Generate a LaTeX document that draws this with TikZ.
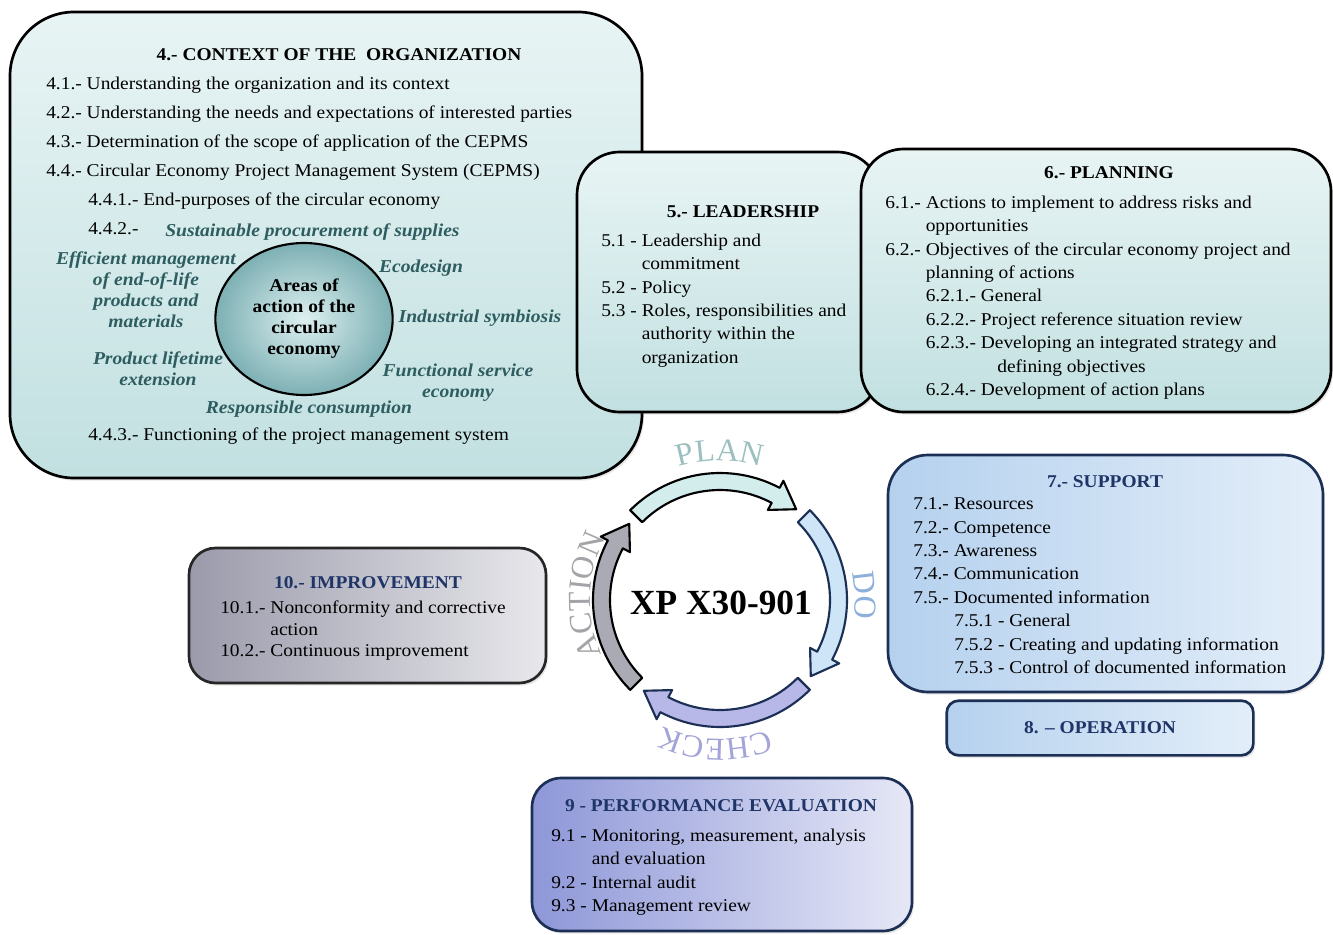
\documentclass[tikz,border=0pt]{standalone}
\usepackage{fontspec}
\setmainfont{Liberation Serif}[FakeStretch=1.08]
\newfontfamily\pdcafont{Liberation Serif}
\usepackage{xcolor}
\usepackage{tikz}
\usetikzlibrary{arrows.meta,positioning,fit,calc,shapes.geometric,decorations.text,shadows}

\definecolor{ctxtop}{HTML}{E8F4F4}
\definecolor{ctxbot}{HTML}{C2E0E1}
\definecolor{suplight}{HTML}{E3EEF9}
\definecolor{supdark}{HTML}{B5D1EE}
\definecolor{perflight}{HTML}{E6E8F6}
\definecolor{perfdark}{HTML}{8E97D8}
\definecolor{implight}{HTML}{E8E8EC}
\definecolor{impdark}{HTML}{9A9AAB}
\definecolor{navyline}{HTML}{1C2F55}
\definecolor{navytext}{HTML}{1F3467}
\definecolor{areateal}{HTML}{2E5D60}
\definecolor{ellinner}{HTML}{DDF0F0}
\definecolor{ellouter}{HTML}{7DB0B4}
\definecolor{plancol}{HTML}{D3ECEC}
\definecolor{docol}{HTML}{CDE5F7}
\definecolor{checkcol}{HTML}{B7B8E8}
\definecolor{actcol}{HTML}{A9AAB3}
\definecolor{planlbl}{HTML}{9CBFBF}
\definecolor{dolbl}{HTML}{8DAFDC}
\definecolor{checklbl}{HTML}{A3A4D8}
\definecolor{actlbl}{HTML}{A4A4A8}

\tikzset{
    softshadow/.style={
        drop shadow={opacity=0.18, shadow xshift=1.5pt, shadow yshift=-2pt}
    },
    tealbox/.style={
        draw=black,
        line width=2pt,
        top color=ctxtop,
        bottom color=ctxbot,
        inner sep=0pt,
        softshadow
    },
    bluebox/.style={
        draw=navyline,
        line width=2pt,
        left color=supdark,
        right color=suplight,
        inner sep=0pt,
        softshadow
    },
    violetbox/.style={
        draw=navyline,
        line width=2pt,
        left color=perfdark,
        right color=perflight,
        inner sep=0pt,
        softshadow
    },
    graybox/.style={
        draw=black!85,
        line width=2pt,
        left color=impdark,
        right color=implight,
        inner sep=0pt,
        softshadow
    },
    listtext/.style={
        align=left,
        anchor=north west,
        inner sep=0pt,
        font=\fontsize{13.5}{17.55}\selectfont
    },
    headtext/.style={
        anchor=base,
        inner sep=0pt,
        font=\fontsize{13.5}{16}\selectfont\bfseries
    },
    areatext/.style={
        align=center,
        inner sep=0pt,
        text=areateal,
        font=\fontsize{13.6}{15.75}\selectfont\bfseries\itshape
    },
    cyclearrow/.style={
        line width=1.6pt,
        line join=round
    },
    pdcalabel/.style={
        decorate,
        decoration={text along path, text align=center, text color=#1}
    }
}

\begin{document}
\begin{tikzpicture}[x=0.75pt, y=0.75pt]
    \useasboundingbox (0,0) rectangle (1333,-934);

    \node[tealbox, rounded corners=48pt, fit={(10,-12) (642,-478)}] (ctx) {};
    \node[tealbox, rounded corners=32pt, fit={(577,-152) (880,-412)}] (lead) {};
    \node[tealbox, rounded corners=32pt, fit={(861,-149) (1331,-412)}] (plan) {};
    \node[bluebox, rounded corners=30pt, fit={(888,-455) (1323,-692)}] (supp) {};
    \node[bluebox, rounded corners=9pt, minimum width=230pt, minimum height=41pt,
        font=\fontsize{13.5}{16}\selectfont\bfseries, text=navytext] (oper) at (1100,-728) {8. -- OPERATION};
    \node[graybox, rounded corners=20pt, fit={(189,-548) (546,-683)}] (impr) {};
    \node[violetbox, rounded corners=22pt, fit={(532,-778) (912,-931)}] (perf) {};

    \node[headtext] (ctxhead) at (339,-61) {4.- CONTEXT OF THE\ \ ORGANIZATION};
    \node[listtext, font=\fontsize{13.5}{21.75}\selectfont] (ctxlist) at (46,-76.5) {
        4.1.- Understanding the organization and its context\\
        4.2.- Understanding the needs and expectations of interested parties\\
        4.3.- Determination of the scope of application of the CEPMS\\
        4.4.- Circular Economy Project Management System (CEPMS)\\
        \hspace*{31.5pt}4.4.1.- End-purposes of the circular economy\\
        \hspace*{31.5pt}4.4.2.-
    };
    \node[listtext, anchor=base west] (ctxlast) at (88,-440) {4.4.3.- Functioning of the project management system};

    \node[ellipse, draw=black, line width=1.6pt, inner color=ellinner, outer color=ellouter,
        minimum width=133pt, minimum height=114pt, align=center, inner sep=0pt,
        font=\fontsize{13.5}{15.75}\selectfont\bfseries] (areas) at (304,-319) {
        Areas of\\
        action of the\\
        circular\\
        economy
    };
    \node[areatext, anchor=base west] (supply) at (165,-236) {Sustainable procurement of supplies};
    \node[areatext] (effmgmt) at (146,-290) {Efficient management\\of end-of-life\\products and\\materials};
    \node[areatext] (ecodes) at (421,-268) {Ecodesign};
    \node[areatext] (indsym) at (480,-318) {Industrial symbiosis};
    \node[areatext] (prodlife) at (158,-369) {Product lifetime\\extension};
    \node[areatext] (funcserv) at (458,-383) {Functional service\\economy};
    \node[areatext] (respcons) at (309,-409) {Responsible consumption};

    \node[headtext] (leadhead) at (743,-218) {5.- LEADERSHIP};
    \node[listtext] (leadlist) at (601,-233.5) {
        5.1 - Leadership and\\
        \phantom{5.1 - }commitment\\
        5.2 - Policy\\
        5.3 - Roles, responsibilities and\\
        \phantom{5.3 - }authority within the\\
        \phantom{5.3 - }organization
    };

    \node[headtext] (planhead) at (1109,-179) {6.- PLANNING};
    \node[listtext] (planlist) at (885,-195.5) {
        6.1.- Actions to implement to address risks and\\
        \phantom{6.1.- }opportunities\\
        6.2.- Objectives of the circular economy project and\\
        \phantom{6.2.- }planning of actions\\
        \phantom{6.2.- }6.2.1.- General\\
        \phantom{6.2.- }6.2.2.- Project reference situation review\\
        \phantom{6.2.- }6.2.3.- Developing an integrated strategy and\\
        \hspace*{84pt}defining objectives\\
        \phantom{6.2.- }6.2.4.- Development of action plans
    };

    \node[headtext, text=navytext] (supphead) at (1105,-487) {7.- SUPPORT};
    \node[listtext] (supplist) at (913,-497.5) {
        7.1.- Resources\\
        7.2.- Competence\\
        7.3.- Awareness\\
        7.4.- Communication\\
        7.5.- Documented information\\
        \hspace*{30.75pt}7.5.1 - General\\
        \hspace*{30.75pt}7.5.2 - Creating and updating information\\
        \hspace*{30.75pt}7.5.3 - Control of documented information
    };

    \node[headtext, text=navytext] (imprhead) at (368,-588) {10.- IMPROVEMENT};
    \node[listtext, font=\fontsize{13.5}{16.3}\selectfont] (imprlist) at (220,-600.5) {
        10.1.- Nonconformity and corrective\\
        \phantom{10.1.- }action\\
        10.2.- Continuous improvement
    };

    \node[headtext, text=navytext] (perfhead) at (721,-811) {9 - PERFORMANCE EVALUATION};
    \node[listtext] (perflist) at (551,-828.5) {
        9.1 - Monitoring, measurement, analysis\\
        \phantom{9.1 - }and evaluation\\
        9.2 - Internal audit\\
        9.3 - Management review
    };

    \begin{scope}[shift={(720,-600)}]
        \foreach \s/\fcol/\dcol in {135/plancol/black, 45/docol/navyline, -45/checkcol/navyline, -135/actcol/black}{
            \pgfmathsetmacro{\abase}{\s-73}
            \pgfmathsetmacro{\atip}{\s-85}
            \filldraw[cyclearrow, fill=\fcol, draw=\dcol] (\s:127) arc[start angle=\s, end angle=\abase, radius=127]
                -- (\abase:135) -- (\atip:118.5) -- (\abase:102) -- (\abase:110)
                arc[start angle=\abase, end angle=\s, radius=110] -- cycle;
        }
        \node[inner sep=0pt, font=\pdcafont\fontsize{26.5}{30}\selectfont\bfseries] (xp) at (1,-3) {XP X30-901};
        \path[pdcalabel=planlbl, decoration={text={|\pdcafont\fontsize{24}{24}\selectfont|PLAN}}]
            (130:139) arc[start angle=130, end angle=50, radius=139];
        \path[pdcalabel=dolbl, decoration={text={|\pdcafont\fontsize{24}{24}\selectfont|DO}}]
            (42:135) arc[start angle=42, end angle=-38, radius=135];
        \path[pdcalabel=checklbl, decoration={text={|\pdcafont\fontsize{24}{24}\selectfont|CHECK}}]
            (-52:139) arc[start angle=-52, end angle=-132, radius=139];
        \path[pdcalabel=actlbl, decoration={text={|\pdcafont\fontsize{24}{24}\selectfont|ACTION}}]
            (-142:130) arc[start angle=-142, end angle=-222, radius=130];
    \end{scope}
\end{tikzpicture}
\end{document}
